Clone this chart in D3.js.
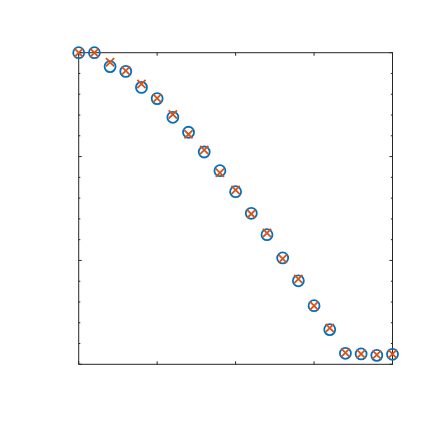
<!DOCTYPE html>
<html lang="en">

<head>
  <meta charset="UTF-8">
  <title>scatter</title>
  <script src="https://cdn.jsdelivr.net/npm/d3@7"></script>
  <style>
    html, body { margin: 0; padding: 0; background: #fff; }
  </style>
</head>

<body>
</body>
<script>
  // data
  const steps = d3.range(0, 21)
  const seriesA = [1.500, 1.500, 1.433, 1.410, 1.333, 1.279, 1.189, 1.117, 1.022, 0.932, 0.831,
    0.727, 0.624, 0.512, 0.402, 0.282, 0.167, 0.053, 0.050, 0.043, 0.048]
  const seriesB = [1.500, 1.500, 1.454, 1.413, 1.349, 1.281, 1.203, 1.107, 1.032, 0.922, 0.839,
    0.724, 0.632, 0.508, 0.411, 0.282, 0.175, 0.056, 0.050, 0.046, 0.050]
  const xTicks = [0, 5, 10, 15, 20]
  const yMajor = [0, 0.5, 1, 1.5]
  const yMinor = d3.range(0, 16).map(d => d / 10)

  const width = 433
  const height = 433
  const marge = { top: 52.7, bottom: 68.7, left: 78.7, right: 40.5 }

  const svg = d3.select('body')
    .append('svg')
    .attr("width", width)
    .attr("height", height)

  const x = d3.scaleLinear().domain([0, 20]).range([marge.left, width - marge.right])
  const y = d3.scaleLinear().domain([0, 1.5]).range([height - marge.bottom, marge.top])

  const axisColor = "#262626"
  const g = svg.append("g")

  // box
  g.append("rect")
    .attr("x", x(0))
    .attr("y", y(1.5))
    .attr("width", x(20) - x(0))
    .attr("height", y(0) - y(1.5))
    .attr("fill", "none")
    .attr("stroke", axisColor)
    .attr("stroke-width", 1)

  // ticks, pointing in, on all four sides, no labels
  const ticks = g.append("g").attr("stroke", axisColor).attr("stroke-width", 1)
  xTicks.forEach(t => {
    ticks.append("line").attr("x1", x(t)).attr("x2", x(t)).attr("y1", y(0)).attr("y2", y(0) - 3)
    ticks.append("line").attr("x1", x(t)).attr("x2", x(t)).attr("y1", y(1.5)).attr("y2", y(1.5) + 3)
  })
  yMinor.forEach(t => {
    const len = yMajor.some(m => Math.abs(m - t) < 1e-9) ? 3 : 1.6
    ticks.append("line").attr("x1", x(0)).attr("x2", x(0) + len).attr("y1", y(t)).attr("y2", y(t))
    ticks.append("line").attr("x1", x(20)).attr("x2", x(20) - len).attr("y1", y(t)).attr("y2", y(t))
  })

  // circles
  g.append("g")
    .selectAll("circle")
    .data(steps)
    .enter()
    .append("circle")
    .attr("cx", d => x(d))
    .attr("cy", d => y(seriesA[d]))
    .attr("r", 5.5)
    .attr("fill", "none")
    .attr("stroke", "#0072BD")
    .attr("stroke-width", 1.8)

  // crosses
  const s = 4.1
  g.append("g")
    .selectAll("path")
    .data(steps)
    .enter()
    .append("path")
    .attr("d", d => {
      const cx = x(d), cy = y(seriesB[d])
      return "M" + (cx - s) + "," + (cy - s) + "L" + (cx + s) + "," + (cy + s) +
        "M" + (cx - s) + "," + (cy + s) + "L" + (cx + s) + "," + (cy - s)
    })
    .attr("fill", "none")
    .attr("stroke", "#D95319")
    .attr("stroke-width", 1.8)

</script>

</html>
